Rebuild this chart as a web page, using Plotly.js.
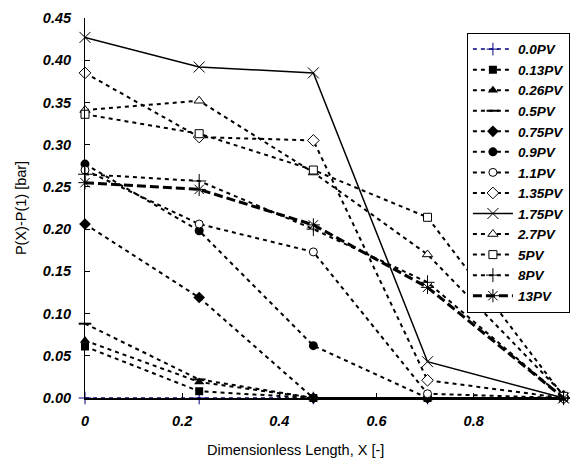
<!DOCTYPE html>
<html>
<head>
<meta charset="utf-8">
<script src="https://cdn.plot.ly/plotly-3.0.1.min.js"></script>
<style>
  html, body { margin: 0; padding: 0; background: #ffffff; }
  #chart { width: 570px; height: 462px; }
</style>
</head>
<body>
<div id="chart"></div>
<script>
// Dimensionless positions along the core
const X = [0, 0.235, 0.47, 0.705, 0.985];

// Pressure drop profiles P(X)-P(1) [bar] for each injected pore volume
const pv00  = [0, 0, 0, 0, 0];
const pv013 = [0.061, 0.008, 0, 0, 0];
const pv026 = [0.068, 0.019, 0, 0, 0];
const pv05  = [0.088, 0.022, 0, 0, 0];
const pv075 = [0.206, 0.119, 0, 0, 0];
const pv09  = [0.277, 0.198, 0.062, 0, 0];
const pv11  = [0.270, 0.206, 0.173, 0.005, 0];
const pv135 = [0.385, 0.309, 0.305, 0.021, 0];
const pv175 = [0.427, 0.392, 0.385, 0.043, 0];
const pv27  = [0.341, 0.352, 0.267, 0.170, 0.004];
const pv5   = [0.336, 0.313, 0.270, 0.214, 0.002];
const pv8   = [0.265, 0.257, 0.200, 0.137, 0];
const pv13  = [0.255, 0.247, 0.205, 0.131, 0];

const seriesNames = ['0.0PV', '0.13PV', '0.26PV', '0.5PV', '0.75PV', '0.9PV', '1.1PV',
                     '1.35PV', '1.75PV', '2.7PV', '5PV', '8PV', '13PV'];
const seriesValues = [pv00, pv013, pv026, pv05, pv075, pv09, pv11,
                      pv135, pv175, pv27, pv5, pv8, pv13];

const DASH = '4px,4px';
// line + marker styling per series
const styles = [
  { color: '#000080', dash: DASH, width: 1.5, symbol: 'cross-thin', size: 9, fill: '#000080', lw: 1 },
  { color: '#000000', dash: DASH, width: 2, symbol: 'square', size: 8, fill: '#000000', lw: 0 },
  { color: '#000000', dash: DASH, width: 2, symbol: 'triangle-up', size: 9, fill: '#000000', lw: 0 },
  { color: '#000000', dash: DASH, width: 2, symbol: 'line-ew', size: 9, fill: '#000000', lw: 2 },
  { color: '#000000', dash: DASH, width: 2, symbol: 'diamond', size: 9, fill: '#000000', lw: 0 },
  { color: '#000000', dash: DASH, width: 2, symbol: 'circle', size: 9, fill: '#000000', lw: 0 },
  { color: '#000000', dash: DASH, width: 2, symbol: 'circle', size: 8, fill: '#ffffff', lw: 1 },
  { color: '#000000', dash: DASH, width: 2, symbol: 'diamond', size: 9, fill: '#ffffff', lw: 1 },
  { color: '#000000', dash: 'solid', width: 1.5, symbol: 'x-thin', size: 11, fill: '#000000', lw: 1 },
  { color: '#000000', dash: DASH, width: 2, symbol: 'triangle-up', size: 9, fill: '#ffffff', lw: 1 },
  { color: '#000000', dash: DASH, width: 2, symbol: 'square', size: 8, fill: '#ffffff', lw: 1 },
  { color: '#000000', dash: DASH, width: 2, symbol: 'cross-thin', size: 10, fill: '#000000', lw: 1 },
  { color: '#000000', dash: '9px,4px', width: 3, symbol: 'asterisk', size: 11, fill: '#000000', lw: 1 }
];

const traces = seriesNames.map((name, i) => {
  const s = styles[i];
  return {
    x: X,
    y: seriesValues[i],
    name: name,
    type: 'scatter',
    mode: 'lines+markers',
    cliponaxis: false,
    line: { color: s.color, dash: s.dash, width: s.width },
    marker: {
      symbol: s.symbol,
      size: s.size,
      color: s.fill,
      line: { color: s.color, width: s.lw }
    }
  };
});

const tickFont = { family: 'Liberation Sans, Arial, sans-serif', size: 14.5, color: '#000000', weight: 'bold', style: 'italic' };

const layout = {
  width: 570,
  height: 462,
  margin: { l: 85, r: 0, t: 18, b: 64 },
  paper_bgcolor: '#ffffff',
  plot_bgcolor: '#ffffff',
  showlegend: true,
  xaxis: {
    range: [0, 0.99],
    tick0: 0,
    dtick: 0.2,
    showgrid: false,
    zeroline: false,
    showline: true,
    linecolor: '#000000',
    linewidth: 1.5,
    ticks: 'inside',
    ticklen: 5,
    tickcolor: '#000000',
    tickfont: tickFont,
    ticklabelstandoff: 9
  },
  yaxis: {
    range: [0, 0.45],
    tick0: 0,
    dtick: 0.05,
    tickformat: '.2f',
    showgrid: false,
    zeroline: false,
    showline: true,
    linecolor: '#000000',
    linewidth: 1,
    ticks: 'inside',
    ticklen: 5,
    tickcolor: '#000000',
    tickfont: tickFont,
    ticklabelstandoff: 10,
    title: {
      text: 'P(X)-P(1) [bar]',
      font: { family: 'Liberation Sans, Arial, sans-serif', size: 14.5, color: '#000000' },
      standoff: 12
    }
  },
  annotations: [{
    text: 'Dimensionless Length, X [-]',
    xref: 'paper', yref: 'paper',
    x: 0.437, y: -0.137,
    xanchor: 'center', yanchor: 'middle',
    showarrow: false,
    font: { family: 'Liberation Sans, Arial, sans-serif', size: 14.5, color: '#000000' }
  }],
  legend: {
    x: 0.794, y: 0.961,
    xanchor: 'left', yanchor: 'top',
    bgcolor: '#ffffff',
    bordercolor: '#000000',
    borderwidth: 1,
    itemwidth: 40,
    font: { family: 'Liberation Sans, Arial, sans-serif', size: 13.5, color: '#000000', weight: 'bold', style: 'italic' },
    tracegroupgap: 0
  }
};

Plotly.newPlot('chart', traces, layout, { displayModeBar: false, staticPlot: true });
</script>
</body>
</html>
